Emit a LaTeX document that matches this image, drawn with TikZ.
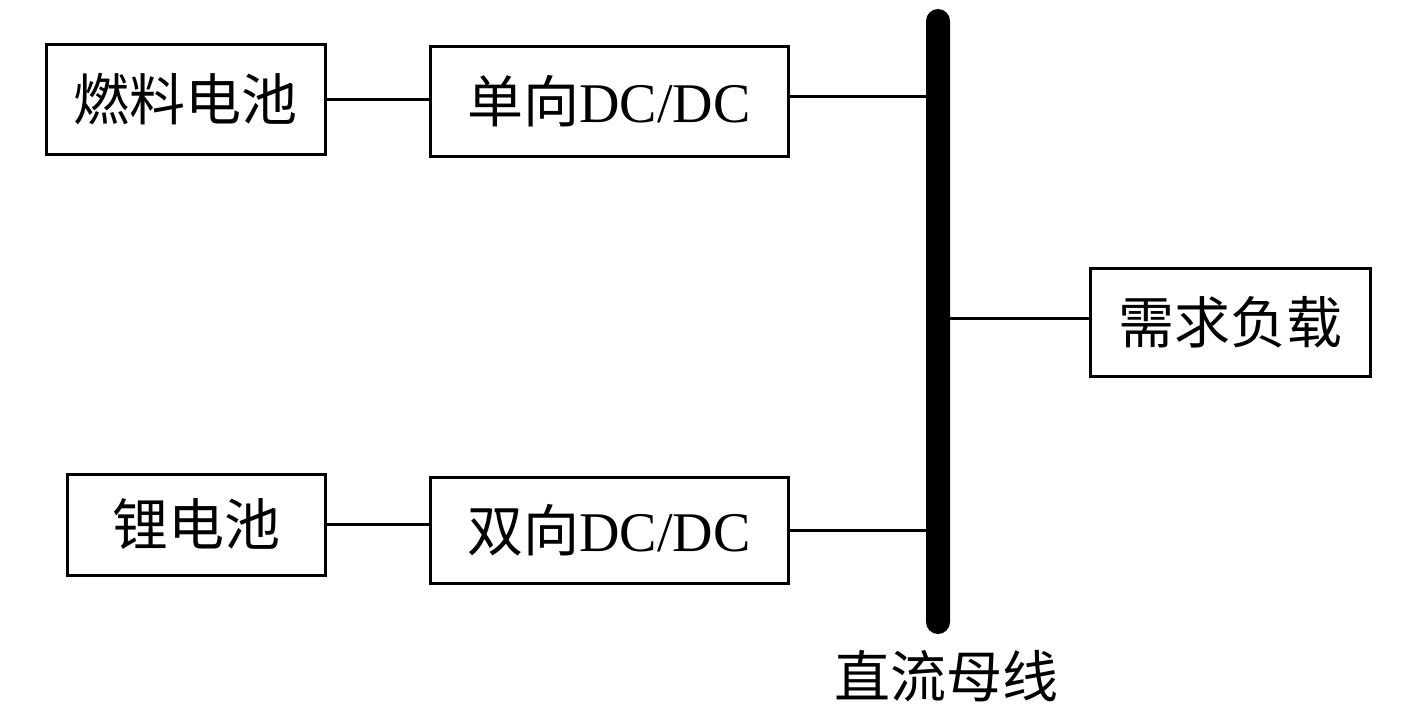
\documentclass[tikz,border=0pt]{standalone}
\usepackage{fontspec}
\setmainfont{Liberation Serif}
\newfontfamily\cjk{Noto Sans CJK SC}
\begin{document}
\begin{tikzpicture}[x=1pt,y=-1pt,
  blk/.style={draw=black,line width=3pt,inner sep=0pt,font=\fontsize{56}{60}\selectfont},
  wire/.style={line width=3pt}]
\useasboundingbox (0,0) rectangle (1417,709);
\node[blk,minimum width=279,minimum height=109] (fc) at (185.5,99.5) {\cjk 燃料电池};
\node[blk,minimum width=358,minimum height=109] (uni) at (609,101.5) {{\cjk 单向}DC/DC};
\node[blk,minimum width=258,minimum height=101] (li) at (196,524.5) {\cjk 锂电池};
\node[blk,minimum width=358,minimum height=106] (bi) at (609,530) {{\cjk 双向}DC/DC};
\node[blk,minimum width=280,minimum height=108] (load) at (1230,322) {\cjk 需求负载};
\node[fill=black,rounded corners=12pt,minimum width=24,minimum height=625,inner sep=0pt] (bus) at (938,321.5) {};
\node[font=\fontsize{56}{60}\selectfont\cjk] (buslbl) at (946,676) {直流母线};
\draw[wire] (fc.east) -- (fc.east -| uni.west);
\draw[wire] ([yshift=5pt]uni.east) -- ([yshift=5pt]uni.east -| bus.center);
\draw[wire] (li.east) -- (li.east -| bi.west);
\draw[wire] (bi.east) -- (bi.east -| bus.center);
\draw[wire] ([yshift=4pt]bus.center |- load.west) -- ([yshift=4pt]load.west);
\end{tikzpicture}
\end{document}
